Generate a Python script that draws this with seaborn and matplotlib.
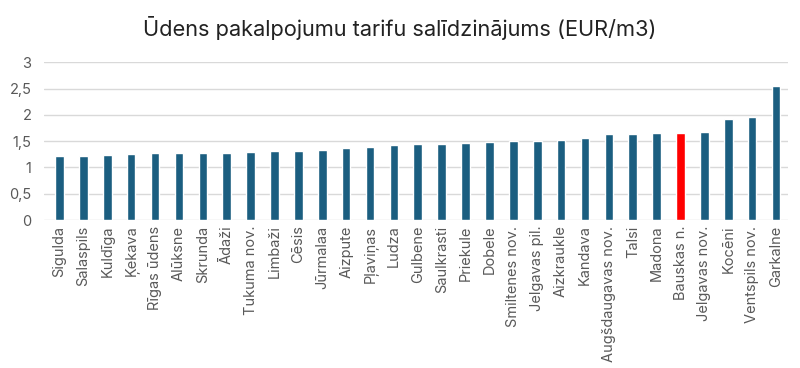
import matplotlib
matplotlib.use("Agg")
import matplotlib.pyplot as plt
import seaborn as sns
import pandas as pd

categories = ["Sigulda", "Salaspils", "Kuldīga", "Ķekava", "Rīgas ūdens", "Alūksne", "Skrunda",
              "Ādaži", "Tukuma nov.", "Limbaži", "Cēsis", "Jūrmalaa", "Aizpute", "Pļaviņas",
              "Ludza", "Gulbene", "Saulkrasti", "Priekule", "Dobele", "Smiltenes nov.",
              "Jelgavas pil.", "Aizkraukle", "Kandava", "Augšdaugavas nov.", "Talsi", "Madona",
              "Bauskas n.", "Jelgavas nov.", "Kocēni", "Ventspils nov.", "Garkalne"]
values = [1.22, 1.22, 1.23, 1.25, 1.27, 1.27, 1.27, 1.28, 1.29, 1.31, 1.31, 1.34, 1.37, 1.38,
          1.43, 1.44, 1.44, 1.46, 1.49, 1.50, 1.50, 1.53, 1.55, 1.63, 1.63, 1.65, 1.65, 1.67,
          1.92, 1.96, 2.54]
highlight = "Bauskas n."
yticks = [0, 0.5, 1, 1.5, 2, 2.5, 3]
ytick_labels = ["0", "0,5", "1", "1,5", "2", "2,5", "3"]
title = "Ūdens pakalpojumu tarifu salīdzinājums (EUR/m3)"

sns.set_theme(style="white")
plt.rcParams['font.family'] = ['Inter', 'DejaVu Sans']

df = pd.DataFrame({"cat": categories, "val": values})
palette = {c: ("#ff0000" if c == highlight else "#1b5e80") for c in categories}

fig = plt.figure(figsize=(8, 3.68), dpi=100)
ax = fig.add_axes([0.055, 0.402, 0.930, 0.429])
sns.barplot(data=df, x="cat", y="val", hue="cat", palette=palette, width=0.36,
            legend=False, ax=ax, saturation=1)
ax.set_ylim(0, 3)
ax.set_xlim(-0.65, len(categories) - 0.5)
ax.set_yticks(yticks)
ax.set_yticklabels(ytick_labels)
ax.set_xlabel("")
ax.set_ylabel("")
for s in ax.spines.values():
    s.set_visible(False)
ax.grid(axis="y", color="#d9d9d9", linewidth=1)
ax.set_axisbelow(True)
ax.tick_params(axis="x", rotation=90, labelsize=10.5, colors="#595959", length=0, pad=4)
ax.tick_params(axis="y", labelsize=10.5, colors="#595959", length=0, pad=9)
fig.text(0.5, 0.925, title, ha="center", va="center", fontsize=15.7, color="#222222")
fig.savefig("out.png", dpi=100)
